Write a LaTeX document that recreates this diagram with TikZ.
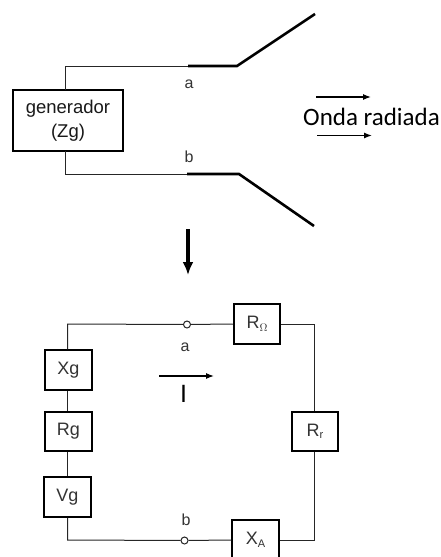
\documentclass[tikz,border=0pt]{standalone}
\usepackage{fontspec}
\setmainfont{Liberation Sans}
\newfontfamily\calib{Carlito}
\usetikzlibrary{arrows.meta}
\tikzset{
  compbox/.style={draw=black,line width=2pt,fill=white,minimum width=46.500pt,minimum height=39.500pt,inner sep=0pt,font=\fontsize{18}{20}\selectfont,text=black!80},
  wire/.style={draw=black!85,line width=1pt},
  thick wire/.style={draw=black,line width=2.6pt},
  term/.style={circle,draw=black!85,line width=1pt,fill=white,minimum size=7pt,inner sep=0pt},
  lab/.style={inner sep=0pt,font=\fontsize{16}{18}\selectfont,text=black!80},
  smallarrow/.style={draw=black,line width=1.2pt,-{Latex[length=8pt,width=6pt]}},
}
\newcommand{\subt}[1]{\raisebox{-2.5pt}{\fontsize{11}{12}\selectfont #1}}
\begin{document}
\begin{tikzpicture}[x=1pt,y=-1pt]
\useasboundingbox (0,0) rectangle (441,557);
% upper
\node[compbox,minimum width=110pt,minimum height=61pt,align=center,font=\fontsize{18.500}{23.500}\selectfont,text=black!90] (gen) at (68,120.500) {generador\\(Zg)};
\coordinate (gt) at (65,90);
\coordinate (gtc) at (65,66);
\coordinate (a1) at (188,66);
\coordinate (a2) at (237,66);
\coordinate (a3) at (315,14);
\coordinate (gb) at (65,151);
\coordinate (gbc) at (65,174);
\coordinate (b1) at (187,174);
\coordinate (b2) at (239,174);
\coordinate (b3) at (314,226);
\draw[wire] (gt) -- (gtc) -- (a1);
\draw[wire] (gb) -- (gbc) -- (b1);
\draw[thick wire] (a1) -- (a2) -- (a3);
\draw[thick wire] (b1) -- (b2) -- (b3);
\node[lab] (la) at (189,84) {a};
\node[lab] (lb) at (189,157) {b};
\coordinate (o1s) at (316,97); \coordinate (o1e) at (371,97);
\coordinate (o2s) at (317,135.500); \coordinate (o2e) at (372,135.500);
\draw[smallarrow] (o1s) -- (o1e);
\draw[smallarrow] (o2s) -- (o2e);
\node[inner sep=0pt,font=\calib\fontsize{25}{28}\selectfont,text=black] (onda) at (371.500,117) {Onda radiada};
% big arrow
\coordinate (bigs) at (188,229);
\coordinate (bige) at (188,275);
\draw[draw=black,line width=4pt,-{Latex[length=13pt,width=11pt]}] (bigs) -- (bige);
% lower
\node[compbox] (rom) at (257,324) {R\subt{$\Omega$}};
\node[compbox] (xg) at (68.500,370) {Xg};
\node[compbox] (rg) at (68.500,431.500) {Rg};
\node[compbox] (vg) at (67.500,497) {Vg};
\node[compbox] (rr) at (315,431.500) {R\subt{r}};
\node[compbox] (xa) at (255.500,540) {X\subt{A}};
\node[term] (ta) at (187,324.500) {};
\node[term] (tb) at (184.500,540.500) {};
\coordinate (ctl) at (67.500,324);
\coordinate (ctr) at (314.500,324);
\coordinate (cbl) at (67.500,540);
\coordinate (cbr) at (314.500,540);
\draw[wire] (xg.north -| ctl) -- (ctl) -- (ta);
\draw[wire] (ta) -- (rom.west);
\draw[wire] (rom.east) -- (ctr) -- (rr.north -| ctr);
\draw[wire] (rr.south -| ctr) -- (cbr) -- (xa.east);
\draw[wire] (xa.west) -- (tb);
\draw[wire] (tb) -- (cbl) -- (vg.south -| cbl);
\draw[wire] (xg.south -| ctl) -- (rg.north -| ctl);
\draw[wire] (rg.south -| ctl) -- (vg.north -| ctl);
\node[lab] (la2) at (185,347) {a};
\node[lab] (lb2) at (186,520) {b};
\node[lab,font=\fontsize{25}{27}\selectfont,text=black] (li) at (183.500,393.500) {I};
\coordinate (is) at (159,376); \coordinate (ie) at (214,376);
\draw[smallarrow] (is) -- (ie);
\end{tikzpicture}
\end{document}
